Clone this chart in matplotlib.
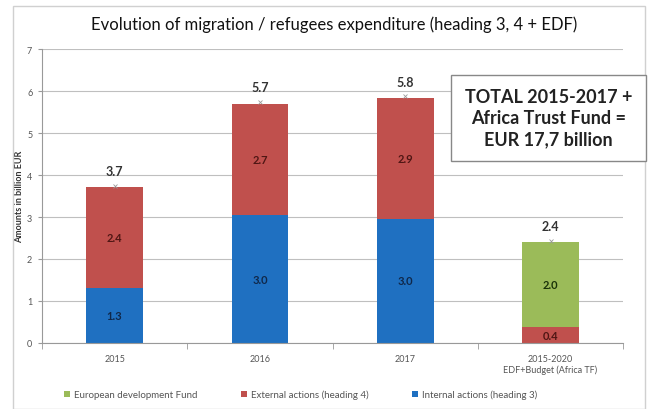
import matplotlib.pyplot as plt
import numpy as np
from matplotlib.patches import Rectangle

plt.rcParams['font.family'] = ['Lato', 'DejaVu Sans']

categories = ["2015", "2016", "2017", "2015-2020\nEDF+Budget (Africa TF)"]
internal = [1.31, 3.04, 2.96, 0.0]   # heading 3
external = [2.40, 2.66, 2.87, 0.38]  # heading 4
edf = [0.0, 0.0, 0.0, 2.02]          # European development fund
legend_labels = ["European development Fund", "External actions (heading 4)",
                 "Internal actions (heading 3)"]

c_blue, c_red, c_green = "#1f70c1", "#c0504d", "#9bbb59"

fig = plt.figure(figsize=(6.56, 4.10), dpi=100)
ax = fig.add_axes([0.064, 0.161, 0.886, 0.717])

x = np.arange(len(categories))
w = 0.39
internal = np.array(internal)
external = np.array(external)
edf = np.array(edf)
totals = internal + external + edf

b_int = ax.bar(x, internal, w, color=c_blue, zorder=2)
b_ext = ax.bar(x, external, w, bottom=internal, color=c_red, zorder=2)
b_edf = ax.bar(x, edf, w, bottom=internal + external, color=c_green, zorder=2)

# segment labels
for i in range(len(x)):
    if internal[i] > 0:
        ax.text(x[i], internal[i] / 2, f"{internal[i]:.1f}", ha="center", va="center",
                fontsize=8, fontweight="bold", color="#10284a", zorder=3)
    if external[i] > 0:
        ax.text(x[i], internal[i] + external[i] / 2, f"{external[i]:.1f}", ha="center",
                va="center", fontsize=8, fontweight="bold", color="#4f1614", zorder=3)
    if edf[i] > 0:
        ax.text(x[i], internal[i] + external[i] + edf[i] / 2, f"{edf[i]:.1f}", ha="center",
                va="center", fontsize=8, fontweight="bold", color="#1a3309", zorder=3)
    ax.text(x[i], totals[i] + 0.25, f"{totals[i]:.1f}", ha="center", va="bottom",
            fontsize=9, fontweight="bold", color="#333333", zorder=3)

# totals series marker
ax.plot(x, totals + 0.04, linestyle="none", marker="x", markersize=3,
        color="#999999", markeredgewidth=0.6, zorder=3)

ax.set_xlim(-0.5, 3.5)
ax.set_ylim(0, 7)
ax.set_yticks(range(0, 8))
ax.yaxis.grid(True, color="#bfbfbf", linewidth=0.8, zorder=0)
ax.set_xticks(x)
ax.set_xticklabels(categories, fontsize=6.5, color="#555555")
ax.set_xticks(np.arange(-0.5, 4.0, 1.0), minor=True)
ax.tick_params(axis="x", which="major", length=0, pad=8)
ax.tick_params(axis="x", which="minor", length=4, color="#999999")
ax.tick_params(axis="y", labelsize=6.5, labelcolor="#555555", length=3, color="#999999", pad=4)
ax.set_ylabel("Amounts in billion EUR", fontsize=6.5, fontweight="bold", color="#333333",
              labelpad=2)
for s in ["top", "right"]:
    ax.spines[s].set_visible(False)
ax.spines["left"].set_color("#999999")
ax.spines["bottom"].set_color("#999999")

fig.text(0.51, 0.939, "Evolution of migration / refugees expenditure (heading 3, 4 + EDF)",
         ha="center", va="center", fontsize=12, color="#111111")

# summary box
fig.text(0.836, 0.71, "TOTAL 2015-2017 +\nAfrica Trust Fund =\nEUR 17,7 billion",
         ha="center", va="center", fontsize=13, fontweight="bold", color="#222222",
         linespacing=1.3,
         bbox=dict(boxstyle="square,pad=0.75", facecolor="white", edgecolor="#888888",
                   linewidth=1))

handles = [b_edf, b_ext, b_int]
fig.legend(handles, legend_labels, loc="center left", bbox_to_anchor=(0.098, 0.035),
           ncol=3, frameon=False, fontsize=7, handlelength=0.6, handleheight=0.6,
           handletextpad=0.4, columnspacing=4.5, labelcolor="#555555",
           borderaxespad=0, borderpad=0)

# outer chart frame
fig.patches.append(Rectangle((13 / 656, 0.0), 632 / 656, 1 - 7 / 410,
                             transform=fig.transFigure, fill=False,
                             edgecolor="#d0d0d0", linewidth=1))

fig.savefig("out.png", dpi=100)
